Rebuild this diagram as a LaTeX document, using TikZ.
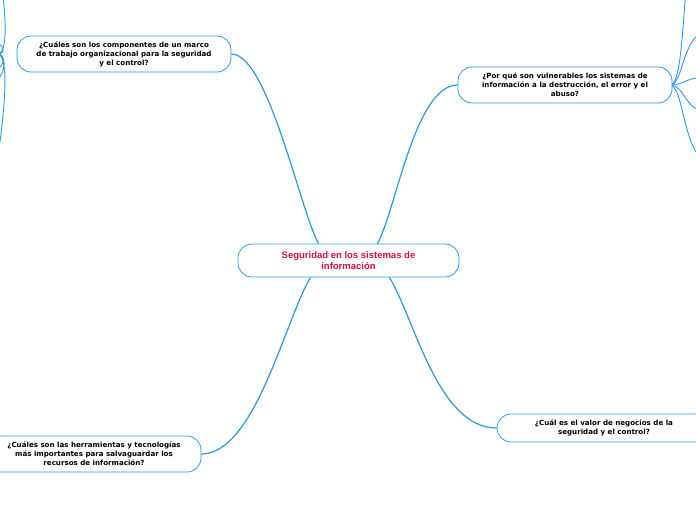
\documentclass[tikz,border=0pt]{standalone}
\usepackage{fontspec}
\usepackage{tikz}
\newfontfamily\qfont{DejaVu Sans}
\newfontfamily\topicfont{Liberation Sans}
\definecolor{mapblue}{RGB}{45,155,225}
\definecolor{topicred}{RGB}{208,18,58}

\begin{document}
\begin{tikzpicture}
        [x=1pt,y=-1pt,
        %%%%%%%%%%%%%%%%%%%%%%%%%%%%%%
        bubble/.style={draw=mapblue, line width=0.8pt, rounded corners=14pt, fill=white,
          minimum width=214pt, minimum height=36pt, inner sep=0pt, align=center,
          font=\qfont\bfseries\fontsize{7.1}{9}\selectfont},
        topic/.style={bubble, minimum width=221pt, minimum height=33pt, text=topicred,
          font=\topicfont\bfseries\fontsize{9.5}{11}\selectfont},
        link/.style={draw=mapblue, line width=1.25pt},
        twig/.style={draw=mapblue, line width=0.9pt},
        ]%%%%%%%%%%%%%%%%%%%%%%%%%%%%%%
        \useasboundingbox (0,0) rectangle (696,520);
        \clip (0,0) rectangle (696,520);
        % Loose ends of the hidden sub-branches
        \coordinate (la) at (2,-12);
        \coordinate (lb) at (-12,40);
        \coordinate (lc) at (-12,72);
        \coordinate (ld) at (-12,84);
        \coordinate (le) at (0,142);
        \coordinate (ra) at (686,-12);
        \coordinate (rb) at (708,32);
        \coordinate (rc) at (708,77);
        \coordinate (rd) at (708,112);
        \coordinate (re) at (708,160);
        % Sub-branches
        \draw[twig] (-3,54) .. controls (8,54) and (6,20) .. (la);
        \draw[twig] (-3,54) .. controls (8,54) and (4,42) .. (lb);
        \draw[twig] (-3,54) .. controls (8,54) and (4,72) .. (lc);
        \draw[twig] (-3,54) .. controls (10,54) and (4,84) .. (ld);
        \draw[twig] (-3,54) .. controls (10,54) and (4,110) .. (le);
        \draw[twig] (670,85) .. controls (680,85) and (682,40) .. (ra);
        \draw[twig] (670,85) .. controls (684,85) and (682,32) .. (rb);
        \draw[twig] (670,85) .. controls (685,85) and (685,77) .. (rc);
        \draw[twig] (670,85) .. controls (685,85) and (685,112) .. (rd);
        \draw[twig] (670,85) .. controls (684,85) and (684,160) .. (re);
        % Nodes
        \node[topic] (root) at (348.5,260.5) {Seguridad en los sistemas de\\informaci\'on};
        \node[bubble] (q1) at (124,54)
          {¿Cuáles son los componentes de un marco\\de trabajo organizacional para la seguridad\\y el control?};
        \node[bubble] (q2) at (565,85)
          {¿Por qué son vulnerables los sistemas de\\información a la destrucción, el error y el\\abuso?};
        \node[bubble] (q3) at (94,454)
          {¿Cuáles son las herramientas y tecnologías\\más importantes para salvaguardar los\\recursos de información?};
        \node[bubble, minimum height=28pt] (q4) at (604,428)
          {¿Cuál es el valor de negocios de la\\seguridad y el control?};
        % Main branches
        \draw[link] ([xshift=-30pt]root.north) .. controls (300,210) and (268,54) .. (q1.east);
        \draw[link] ([xshift=29pt]root.north) .. controls (396,210) and (415,85) .. (q2.west);
        \draw[link] ([xshift=-38pt]root.south) .. controls (285,320) and (255,454) .. (q3.east);
        \draw[link] ([xshift=41pt]root.south) .. controls (415,320) and (438,428) .. (q4.west);
      \end{tikzpicture}
\end{document}
